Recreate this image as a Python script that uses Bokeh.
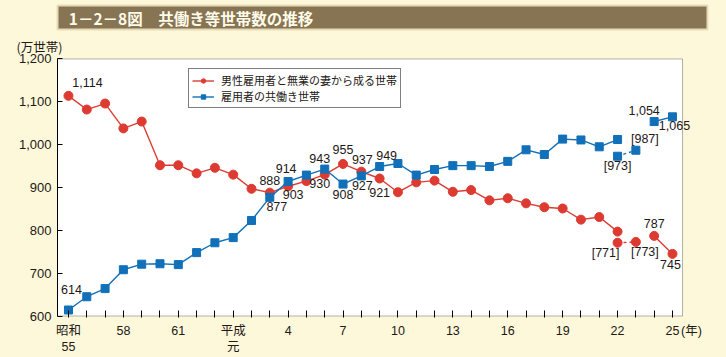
import math
from bokeh.plotting import figure
from bokeh.models import (FixedTicker, NumeralTickFormatter, Legend, LegendItem,
                          Title, ColumnDataSource, Range1d, BoxAnnotation)
from bokeh.layouts import column
from bokeh.core.properties import value
from bokeh.embed import file_html
from bokeh.resources import INLINE

nan = math.nan

# ---------------- data ----------------
title_text = "1－2－8図　共働き等世帯数の推移"
y_unit_text = "(万世帯)"
x_unit_text = "(年)"
series_names = ["男性雇用者と無業の妻から成る世帯", "雇用者の共働き世帯"]

years = list(range(1980, 2014))
single_earner = [1114, 1082, 1096, 1038, 1054, 952, 952, 933, 946, 930,
                 897, 888, 903, 915, 930, 955, 937, 921, 889, 912,
                 916, 890, 894, 870, 875, 863, 854, 851, 825, 831,
                 797, nan, 787, 745]
dual_earner = [614, 645, 664, 708, 721, 722, 720, 748, 771, 783,
               823, 877, 914, 929, 943, 908, 927, 949, 956, 929,
               942, 951, 951, 949, 961, 988, 977, 1013, 1011, 995,
               1012, nan, 1054, 1065]
# values excluding Iwate, Miyagi, Fukushima
excl_years = [2010, 2011]
single_excl = [771, 773]
dual_excl = [973, 987]

y_ticks = [600, 700, 800, 900, 1000, 1100, 1200]
x_tick_labels = {1980: "昭和\n55", 1983: "58", 1986: "61", 1989: "平成\n元",
                 1992: "4", 1995: "7", 1998: "10", 2001: "13", 2004: "16",
                 2007: "19", 2010: "22", 2013: "25"}

single_labeled_years = [1980, 1991, 1992, 1994, 1995, 1996, 1997, 2012, 2013]
dual_labeled_years = [1980, 1991, 1992, 1994, 1995, 1996, 1997, 2012, 2013]

# ---------------- styles / layout ----------------
CREAM = "#FEF8DA"
RED = "#DD3B31"
BLUE = "#1170B8"
INK = "#231815"
NUM_FONT = "Liberation Sans"
JP_FONT = "Noto Sans CJK JP"
MIX_FONT = NUM_FONT + ", " + JP_FONT

FIG_W, FIG_H = 726, 325
BORDER_L, BORDER_R, BORDER_T, BORDER_B = 57, 18, 25, 38
X0, X1 = 1979.4, 2013.55          # plot box in data units
Y0, Y1 = 600, 1200
Y_PAD = 3.5                        # frame a hair larger than the box
BOX_PX_W = 626                     # width of plot box in pixels
PX_PER_YEAR = BOX_PX_W / (X1 - X0)
FRAME_PX_W = FIG_W - BORDER_L - BORDER_R
X_END = X0 + FRAME_PX_W / PX_PER_YEAR
X_UNIT_POS = 2013 + 19 / PX_PER_YEAR

# label offsets (pixels, screen: +y is down)
single_off = {1980: (19, -13), 1991: (0, -12), 1992: (5, 8), 1994: (-5, 9),
              1995: (0, -14), 1996: (1, -12), 1997: (0, 14), 2012: (0, -12),
              2013: (-2, 11)}
dual_off = {1980: (3, -21), 1991: (7, 9), 1992: (-2, -13), 1994: (-5, -11),
            1995: (0, 10), 1996: (1, 10), 1997: (7, -11), 2012: (-10, -11),
            2013: (2, 9)}
single_excl_off = [(-12, 10), (9, 10)]
dual_excl_off = [(0, 10), (9, -11)]


def fmt(v):
    return f"{int(v):,}"


# ---------------- title bar ----------------
tf = figure(width=726, height=32, x_range=Range1d(0, 694), y_range=Range1d(0, 24),
            x_axis_location=None, y_axis_location=None, toolbar_location=None,
            output_backend="svg", title=None,
            min_border_left=13, min_border_right=19, min_border_top=5, min_border_bottom=3)
tf.background_fill_color = "#877452"
tf.border_fill_color = CREAM
tf.outline_line_color = "#E6DBB8"
tf.outline_line_width = 2
tf.grid.visible = False
tf.text(x=[12], y=[12], text=[title_text], text_font=value(JP_FONT),
        text_font_size="15.5px", text_font_style="bold", text_color="#FFFBEA",
        text_baseline="middle", text_align="left")

# ---------------- main chart ----------------
p = figure(width=FIG_W, height=FIG_H, x_range=Range1d(X0, X_END),
           y_range=Range1d(Y0 - Y_PAD, Y1 + Y_PAD), toolbar_location=None,
           output_backend="svg", title=None,
           min_border_left=BORDER_L, min_border_right=BORDER_R,
           min_border_top=BORDER_T, min_border_bottom=BORDER_B)
p.background_fill_color = CREAM
p.border_fill_color = CREAM
p.outline_line_color = None
p.grid.visible = False

# white plot box with black frame
p.add_layout(BoxAnnotation(left=X0, right=X1, bottom=Y0, top=Y1, fill_color="white",
                           fill_alpha=1, line_color="black", line_width=1,
                           level="underlay"))

src = ColumnDataSource(dict(x=years, s=single_earner, d=dual_earner))
src_ex = ColumnDataSource(dict(x=excl_years, s=single_excl, d=dual_excl))

r_line = p.line("x", "s", source=src, line_color=RED, line_width=1.4)
r_pts = p.scatter("x", "s", source=src, marker="circle", size=9,
                  fill_color=RED, line_color=RED)
b_line = p.line("x", "d", source=src, line_color=BLUE, line_width=1.4)
b_pts = p.scatter("x", "d", source=src, marker="square", size=8,
                  fill_color=BLUE, line_color=BLUE)

p.line("x", "s", source=src_ex, line_color=RED, line_width=1.4, line_dash="3 3")
p.scatter("x", "s", source=src_ex, marker="circle", size=9, fill_color=RED, line_color=RED)
p.line("x", "d", source=src_ex, line_color=BLUE, line_width=1.4, line_dash="3 3")
p.scatter("x", "d", source=src_ex, marker="square", size=8, fill_color=BLUE, line_color=BLUE)

# data labels
lx, ly, lt, ldx, ldy = [], [], [], [], []
for yr in single_labeled_years:
    v = single_earner[years.index(yr)]
    lx.append(yr); ly.append(v); lt.append(fmt(v))
    ldx.append(single_off[yr][0]); ldy.append(single_off[yr][1])
for yr in dual_labeled_years:
    v = dual_earner[years.index(yr)]
    lx.append(yr); ly.append(v); lt.append(fmt(v))
    ldx.append(dual_off[yr][0]); ldy.append(dual_off[yr][1])
for i, yr in enumerate(excl_years):
    lx.append(yr); ly.append(single_excl[i]); lt.append(f"[{single_excl[i]}]")
    ldx.append(single_excl_off[i][0]); ldy.append(single_excl_off[i][1])
    lx.append(yr); ly.append(dual_excl[i]); lt.append(f"[{dual_excl[i]}]")
    ldx.append(dual_excl_off[i][0]); ldy.append(dual_excl_off[i][1])

lsrc = ColumnDataSource(dict(x=lx, y=ly, t=lt, dx=ldx, dy=ldy))
p.text("x", "y", text="t", source=lsrc, x_offset="dx", y_offset="dy",
       text_align="center", text_baseline="middle", text_font=value(NUM_FONT),
       text_font_size="12.5px", text_color=INK)

# y axis
yax = p.yaxis[0]
yax.ticker = FixedTicker(ticks=y_ticks)
yax.formatter = NumeralTickFormatter(format="0,0")
yax.major_tick_in = 5
yax.major_tick_out = 0
yax.minor_tick_line_color = None
yax.major_label_standoff = 6
yax.major_label_text_font = NUM_FONT
yax.major_label_text_font_size = "13px"
yax.major_label_text_color = INK
yax.axis_line_color = "black"
yax.bounds = (Y0, Y1)

# x axis: labelled ticks carry no mark, every year gets a minor mark
xax = p.xaxis[0]
labelled = sorted(x_tick_labels) + [X_UNIT_POS]
overrides = dict(x_tick_labels)
overrides[X_UNIT_POS] = x_unit_text
xax.ticker = FixedTicker(ticks=labelled, minor_ticks=years)
xax.major_label_overrides = overrides
xax.major_tick_line_color = None
xax.major_tick_in = 0
xax.major_tick_out = 0
xax.minor_tick_line_color = "black"
xax.minor_tick_in = 7
xax.minor_tick_out = 0
xax.major_label_standoff = 6
xax.major_label_text_font = MIX_FONT
xax.major_label_text_font_size = "12.5px"
xax.major_label_text_color = INK
xax.axis_line_color = None

# unit of the y axis, above the axis top
p.add_layout(Title(text=y_unit_text, align="left", offset=-41, standoff=3,
                   text_font=JP_FONT, text_font_size="12.5px",
                   text_font_style="normal", text_color=INK), "above")

legend = Legend(items=[LegendItem(label=series_names[0], renderers=[r_line, r_pts]),
                       LegendItem(label=series_names[1], renderers=[b_line, b_pts])],
                location=(131, 209))
legend.border_line_color = "black"
legend.border_line_width = 1
legend.background_fill_color = "white"
legend.background_fill_alpha = 1
legend.padding = 3
legend.spacing = -1
legend.margin = 0
legend.glyph_width = 22
legend.glyph_height = 11
legend.label_height = 11
legend.label_standoff = 7
legend.label_text_font = MIX_FONT
legend.label_text_font_size = "11px"
legend.label_text_color = INK
legend.label_text_baseline = "middle"
p.add_layout(legend)

layout = column(tf, p, spacing=0)
layout.background = CREAM
open("out.html", "w").write(file_html(layout, INLINE))
